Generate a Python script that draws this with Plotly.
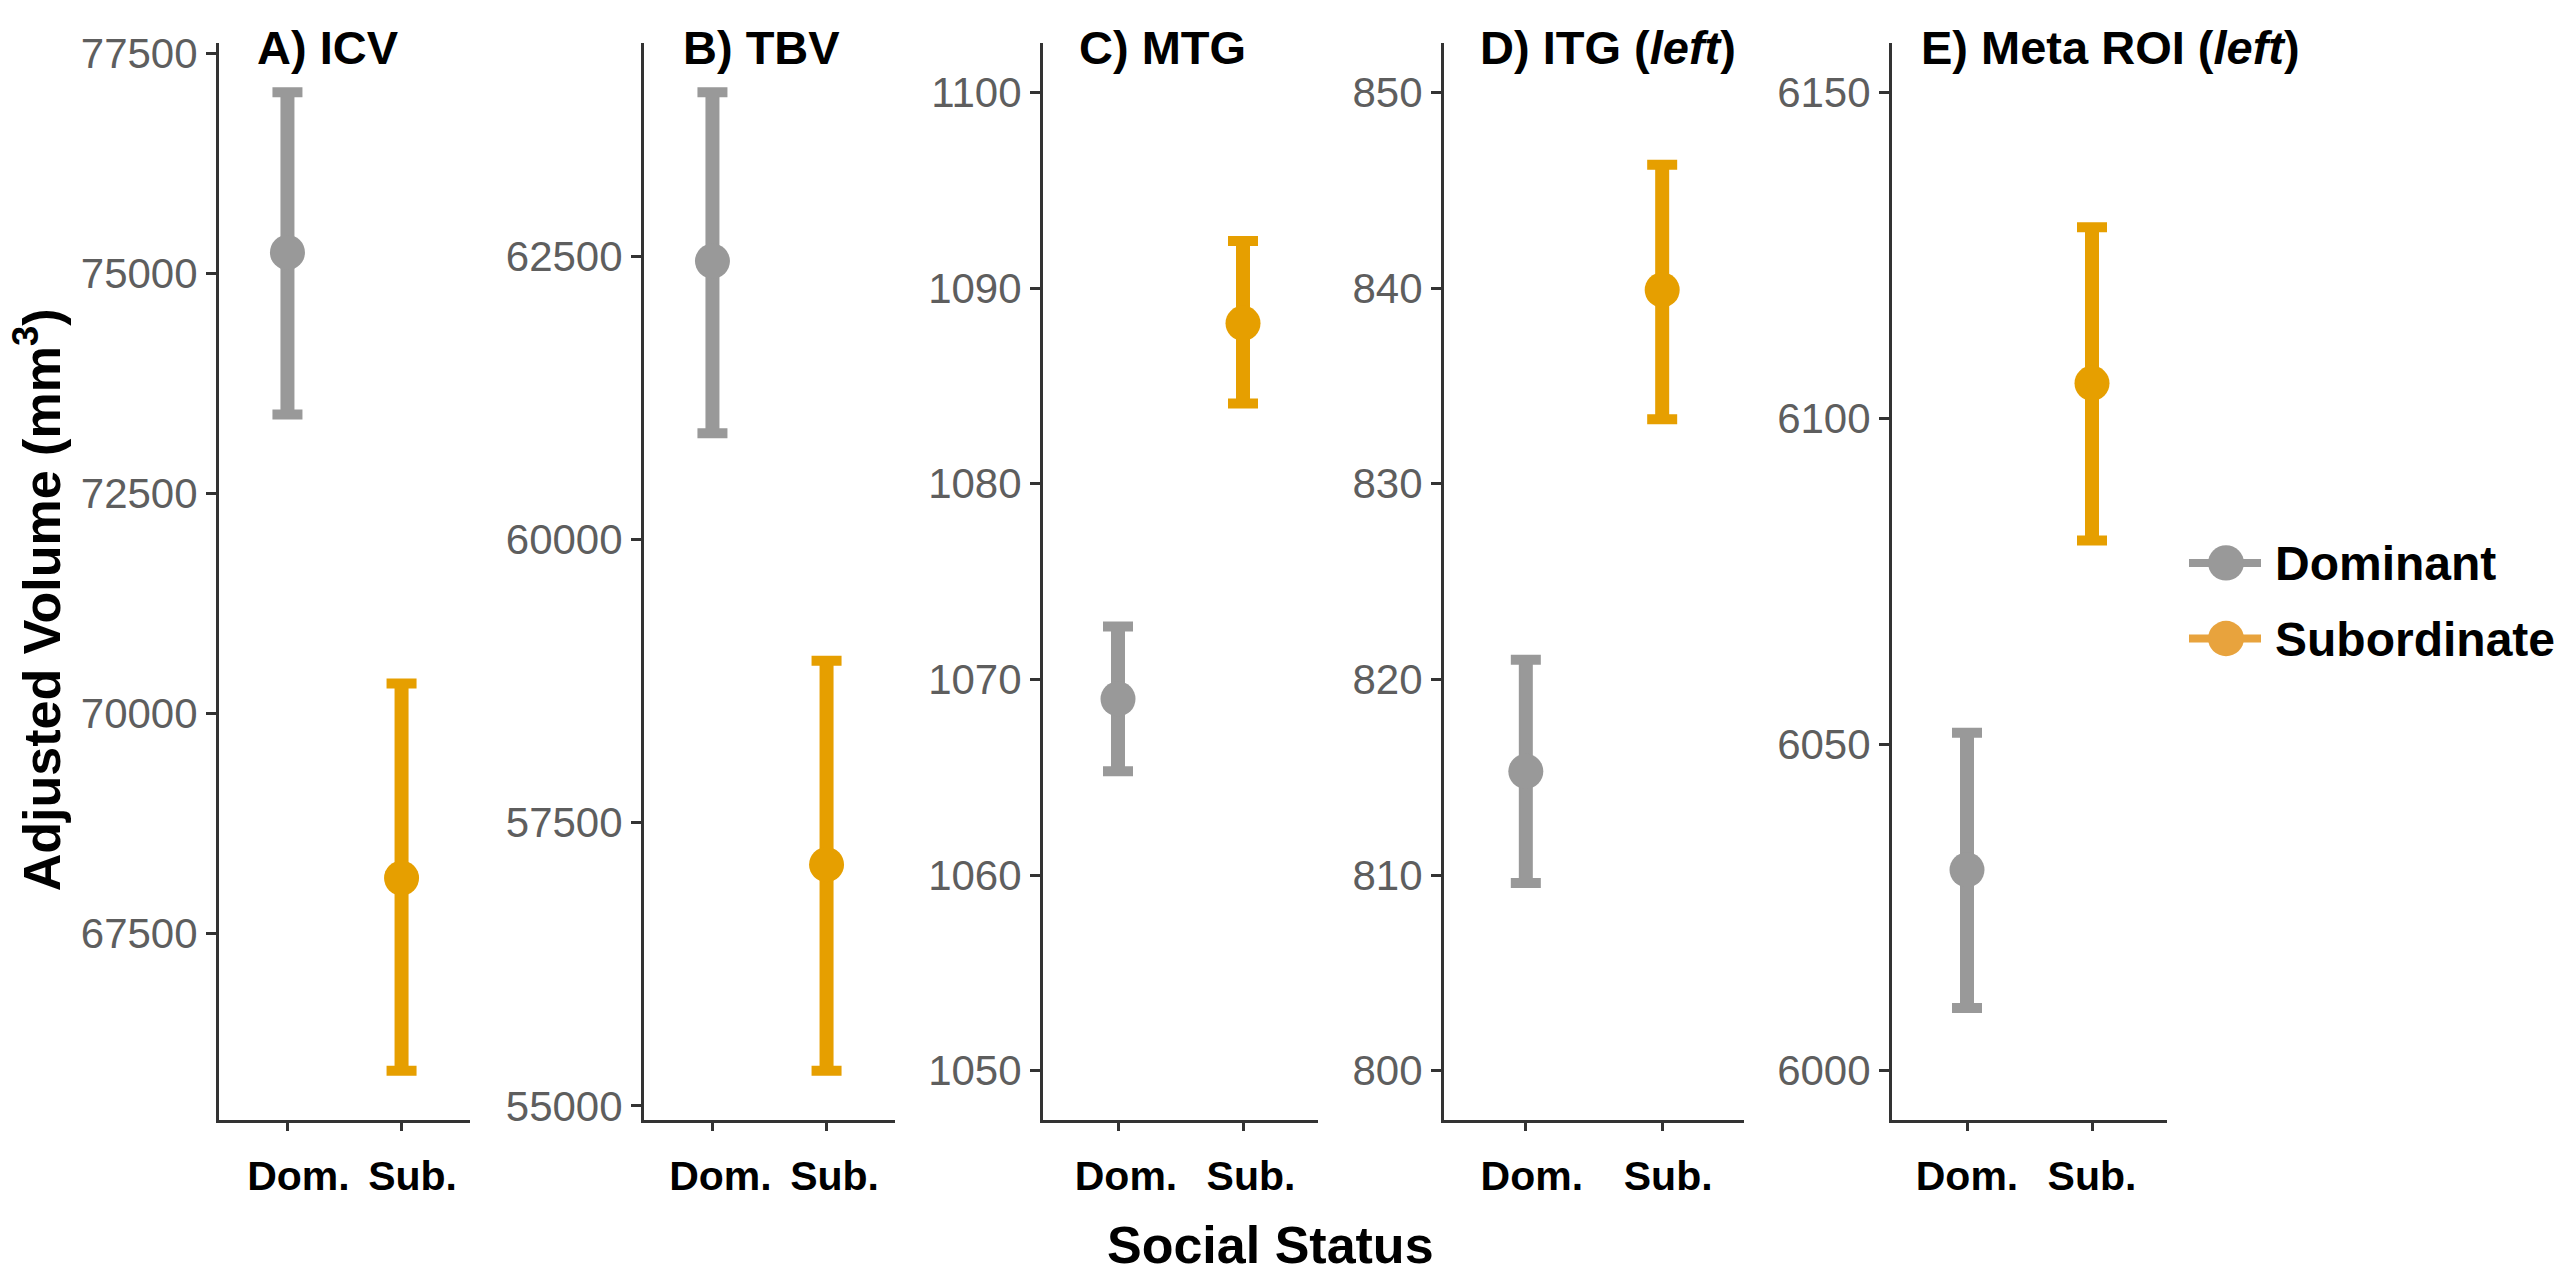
import plotly.graph_objects as go

# ---------------- data ----------------
panel_titles = ["A) ICV", "B) TBV", "C) MTG", "D) ITG (<i>left</i>)", "E) Meta ROI (<i>left</i>)"]
groups = ["Dom.", "Sub."]
legend_names = ["Dominant", "Subordinate"]

dom_mean = [75240, 62460, 1069.0, 815.3, 6030.8]
dom_lo = [73400, 60940, 1065.3, 809.6, 6009.6]
dom_hi = [77060, 63950, 1072.7, 821.0, 6051.8]

sub_mean = [68130, 57130, 1088.2, 839.9, 6105.4]
sub_lo = [65940, 55310, 1084.1, 833.3, 6081.3]
sub_hi = [70340, 58930, 1092.4, 846.3, 6129.3]

y_limits = [None, None, [1050, 1100], [800, 850], [6000, 6150]]
y_dtick = [2500, 2500, 10, 10, 50]

y_title = "Adjusted Volume (mm<sup>3</sup>)"
x_title = "Social Status"

# ---------------- style / layout ----------------
W, H = 2560, 1274
colors = ["#999999", "#E69F00"]
legend_colors = ["#999999", "#E8A33D"]
axis_color = "#333333"
tick_text_color = "#5e5e5e"
FONT = "Liberation Sans, Arial, sans-serif"

x_dom_px = [(219, 470), (644, 895), (1043, 1318), (1444, 1744), (1892, 2167)]
title_x_px = [255, 681, 1077, 1478, 1919]
xlabel_shift = [11, 8, 8, 6, 0]
top_px, bottom_px = 31, 1127


def px_x(v):
    return v / W


def px_y(v):
    return 1 - v / H


fig = go.Figure()

for i in range(5):
    xa = "x" if i == 0 else f"x{i+1}"
    ya = "y" if i == 0 else f"y{i+1}"
    stats = [
        (dom_mean[i], dom_lo[i], dom_hi[i]),
        (sub_mean[i], sub_lo[i], sub_hi[i]),
    ]
    for g in range(2):
        m, lo, hi = stats[g]
        # thicker stem of the error bar
        fig.add_trace(go.Scatter(
            x=[groups[g]], y=[m], mode="markers",
            marker=dict(size=1, opacity=0, color=colors[g]),
            error_y=dict(type="data", symmetric=False, array=[hi - m], arrayminus=[m - lo],
                         color=colors[g], thickness=14, width=0),
            xaxis=xa, yaxis=ya, showlegend=False, hoverinfo="skip",
        ))
        # caps + point
        fig.add_trace(go.Scatter(
            x=[groups[g]], y=[m], mode="markers",
            marker=dict(size=35, color=colors[g]),
            error_y=dict(type="data", symmetric=False, array=[hi - m], arrayminus=[m - lo],
                         color=colors[g], thickness=10, width=15),
            xaxis=xa, yaxis=ya, name=legend_names[g], showlegend=False,
        ))

    # y range like ggplot: limits (given or data) expanded by 5%
    if y_limits[i] is None:
        lo_v = min(dom_lo[i], sub_lo[i])
        hi_v = max(dom_hi[i], sub_hi[i])
    else:
        lo_v, hi_v = y_limits[i]
    pad = 0.05 * (hi_v - lo_v)
    yr = [lo_v - pad, hi_v + pad]

    x0, x1 = x_dom_px[i]
    xkey = "xaxis" if i == 0 else f"xaxis{i+1}"
    ykey = "yaxis" if i == 0 else f"yaxis{i+1}"
    fig.update_layout(**{
        xkey: dict(
            domain=[px_x(x0), px_x(x1)], anchor=ya, type="category",
            categoryorder="array", categoryarray=groups, range=[-0.6, 1.6],
            showline=True, linewidth=3, linecolor=axis_color, mirror=False,
            ticks="outside", ticklen=8, tickwidth=3, tickcolor=axis_color,
            showgrid=False, zeroline=False,
            tickfont=dict(family=FONT, size=41, color="black", weight="bold"),
            ticklabelshift=xlabel_shift[i], ticklabelstandoff=10,
        ),
        ykey: dict(
            domain=[px_y(bottom_px), px_y(top_px)], anchor=xa, range=yr,
            tick0=0, dtick=y_dtick[i], tickformat="d",
            showline=True, linewidth=3, linecolor=axis_color,
            ticks="outside", ticklen=10, tickwidth=3, tickcolor=axis_color,
            showgrid=False, zeroline=False,
            tickfont=dict(family=FONT, size=42, color=tick_text_color),
        ),
    })

annotations = []
for i in range(5):
    annotations.append(dict(
        text=panel_titles[i], xref="paper", yref="paper",
        x=px_x(title_x_px[i]), y=px_y(35), xanchor="left", yanchor="middle",
        showarrow=False, font=dict(family=FONT, size=47, color="black", weight="bold"),
    ))

annotations.append(dict(
    text=y_title, xref="paper", yref="paper", x=px_x(38), y=px_y(598),
    xanchor="center", yanchor="middle", textangle=-90, showarrow=False,
    font=dict(family=FONT, size=52, color="black", weight="bold"),
))
annotations.append(dict(
    text=x_title, xref="paper", yref="paper", x=px_x(1270), y=px_y(1255),
    xanchor="center", yanchor="middle", showarrow=False,
    font=dict(family=FONT, size=52, color="black", weight="bold"),
))

# legend (drawn manually to reproduce the large keys)
legend_y_px = [560, 637]
shapes = []
for g in range(2):
    ly = legend_y_px[g]
    shapes.append(dict(type="line", xref="paper", yref="paper",
                       x0=px_x(2189), x1=px_x(2261), y0=px_y(ly), y1=px_y(ly),
                       line=dict(color=legend_colors[g], width=8)))
    shapes.append(dict(type="circle", xref="paper", yref="paper",
                       x0=px_x(2208), x1=px_x(2244), y0=px_y(ly - 18), y1=px_y(ly + 18),
                       fillcolor=legend_colors[g], line=dict(width=0)))
    annotations.append(dict(
        text=legend_names[g], xref="paper", yref="paper", x=px_x(2273), y=px_y(ly + 1),
        xanchor="left", yanchor="middle", showarrow=False,
        font=dict(family=FONT, size=48, color="black", weight="bold"),
    ))

fig.update_layout(
    width=W, height=H, margin=dict(l=0, r=0, t=0, b=0),
    paper_bgcolor="white", plot_bgcolor="white",
    showlegend=False, annotations=annotations, shapes=shapes,
    font=dict(family=FONT),
)

fig.write_html("out.html")
